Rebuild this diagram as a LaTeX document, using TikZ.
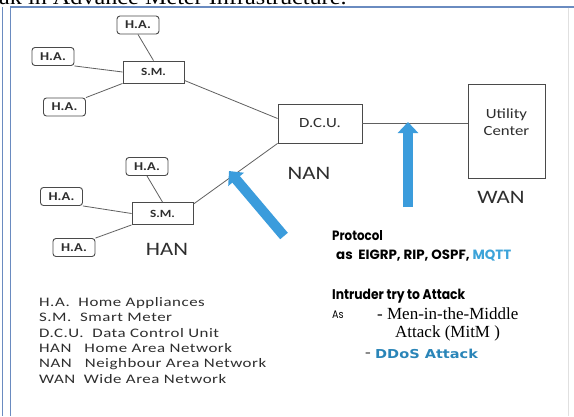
\documentclass[tikz,border=0pt]{standalone}
\usepackage{fontspec}
\usetikzlibrary{arrows.meta,calc}
\setmainfont{Liberation Serif}
\newfontfamily\capfont{Liberation Serif}[FakeStretch=1.1]
\newfontfamily\calf{Carlito}[FakeStretch=1.2]
\newfontfamily\legf{Carlito}[FakeStretch=1.3,LetterSpace=4]
\newfontfamily\geof{Poppins}[FakeStretch=0.88]
\newfontfamily\geow{Poppins}
\newfontfamily\dvf{DejaVu Sans}[FakeStretch=1.18]
\definecolor{framecol}{HTML}{6A8BC0}
\definecolor{boxgray}{HTML}{4A4A4A}
\definecolor{linegray}{HTML}{606060}
\definecolor{textgray}{HTML}{2E2E2E}
\definecolor{arrowblue}{HTML}{3B9CDC}
\definecolor{mqttblue}{HTML}{3CA3D9}
\definecolor{ddosblue}{HTML}{2A85B8}
\tikzset{
  habox/.style={draw=boxgray, line width=0.9pt, rounded corners=3pt, minimum width=42pt, minimum height=18pt, inner sep=0pt, text=textgray, font=\calf\bfseries\fontsize{12}{12}\selectfont},
  smbox/.style={draw=boxgray, line width=0.9pt, minimum width=61pt, minimum height=22pt, inner sep=0pt, text=textgray, font=\calf\bfseries\fontsize{11}{11}\selectfont},
  bigbox/.style={draw=boxgray, line width=0.9pt, inner sep=0pt},
  conn/.style={draw=linegray, line width=0.8pt},
  netlabel/.style={text=textgray, inner sep=0pt, font=\calf\fontsize{19}{19}\selectfont},
  bluearrow/.style={draw=arrowblue, line width=10pt, -{Triangle[width=20pt,length=11pt]}},
  rtext/.style={anchor=west, inner sep=0pt, text=black},
}
\begin{document}
\begin{tikzpicture}[x=1pt,y=-1pt]
\useasboundingbox (0,0) rectangle (574,416);
\clip (0,0) rectangle (574,416);
\fill[white] (0,0) rectangle (574,416);
% cut-off caption
\node[anchor=base west, inner sep=0pt, font=\capfont\fontsize{22}{22}\selectfont] (caption) at (-1,4.5) {ak in Advance Meter Infrastructure.};
% frame
\draw[framecol, line width=1.2pt] (2.8,7) -- (2.8,416);
\draw[framecol, line width=1.2pt] (10.5,416) -- (10.5,7) -- (574,7);
\draw[black!12, line width=0.8pt] (568,7.6) -- (568,416);
% top cluster
\node[smbox] (sm1) at (153.5,72) {S.M.};
\node[habox] (ha1) at (138,25) {H.A.};
\node[habox] (ha2) at (53,56.5) {H.A.};
\node[habox] (ha3) at (64.5,107) {H.A.};
% bottom cluster
\node[smbox] (sm2) at (162.5,213.5) {S.M.};
\node[habox] (ha4) at (147,166.5) {H.A.};
\node[habox] (ha5) at (61.5,196.5) {H.A.};
\node[habox] (ha6) at (74,247.5) {H.A.};
% DCU and utility center
\node[bigbox, minimum width=84pt, minimum height=39pt, text=textgray, font=\calf\fontsize{14}{14}\selectfont] (dcu) at (320,123.5) {D.C.U.};
\node[bigbox, minimum width=77pt, minimum height=94pt] (uc) at (506.5,131) {};
\node[align=center, inner sep=0pt, text=textgray, font=\calf\fontsize{14}{17}\selectfont] (uctext) at (506.5,122) {Utility\\Center};
% labels
\node[netlabel] (nan) at (309,173) {NAN};
\node[netlabel] (wan) at (501,197) {WAN};
\node[netlabel] (han) at (167,249) {HAN};
% connectors
\draw[conn] (ha1.south) -- (sm1.north);
\draw[conn] (ha2.south east) -- (sm1.west);
\draw[conn] (ha3.north east) -- (sm1.south west);
\draw[conn] ([yshift=3pt]sm1.south east) -- ([yshift=5pt]dcu.west);
\draw[conn] (ha4.south) -- (sm2.north);
\draw[conn] (ha5.south east) -- (sm2.west);
\draw[conn] (ha6.north east) -- (sm2.south west);
\draw[conn] ([yshift=-2pt]sm2.north east) -- (dcu.south west);
\draw[conn] (dcu.east) -- (dcu.east -| uc.west);
% blue arrows
\coordinate (vtail) at (408,207);
\coordinate (vtip) at (408,122);
\coordinate (dtail) at (284,236);
\coordinate (dtip) at (229,171);
\draw[bluearrow] (vtail) -- (vtip);
\draw[bluearrow] (dtail) -- (dtip);
% legend
\node[anchor=north west, align=left, inner sep=0pt, text=textgray, font=\legf\fontsize{13}{15.4}\selectfont] (legend) at (39,297) {H.A.\ \ Home Appliances\\S.M.\ \ Smart Meter\\D.C.U.\ \ Data Control Unit\\HAN\ \ \ Home Area Network\\NAN\ \ \ Neighbour Area Network\\WAN\ \ Wide Area Network};
% right text block
\node[rtext, font=\geof\bfseries\fontsize{13.5}{13.5}\selectfont] (proto) at (332,236) {Protocol};
\node[rtext, font=\geow\bfseries\fontsize{13.4}{13.4}\selectfont] (plist) at (336,256) {as\ \ EIGRP, RIP, OSPF, \textcolor{mqttblue}{MQTT}};
\node[rtext, font=\geof\bfseries\fontsize{14}{14}\selectfont] (intr) at (332,296) {Intruder try to Attack};
\node[rtext, font=\geof\fontsize{11}{11}\selectfont] (as) at (332,315) {As};
\node[rtext, font=\fontsize{17}{17}\selectfont] (men) at (377,314) {- Men-in-the-Middle};
\node[rtext, font=\fontsize{17}{17}\selectfont] (mitm) at (395,333) {Attack (MitM )};
\node[rtext, font=\fontsize{17}{17}\selectfont, text=black!70] (dash) at (365,355) {-};
\node[rtext, font=\dvf\bfseries\fontsize{12.3}{12.3}\selectfont, text=ddosblue] (ddos) at (375,354) {DDoS Attack};
\end{tikzpicture}
\end{document}
